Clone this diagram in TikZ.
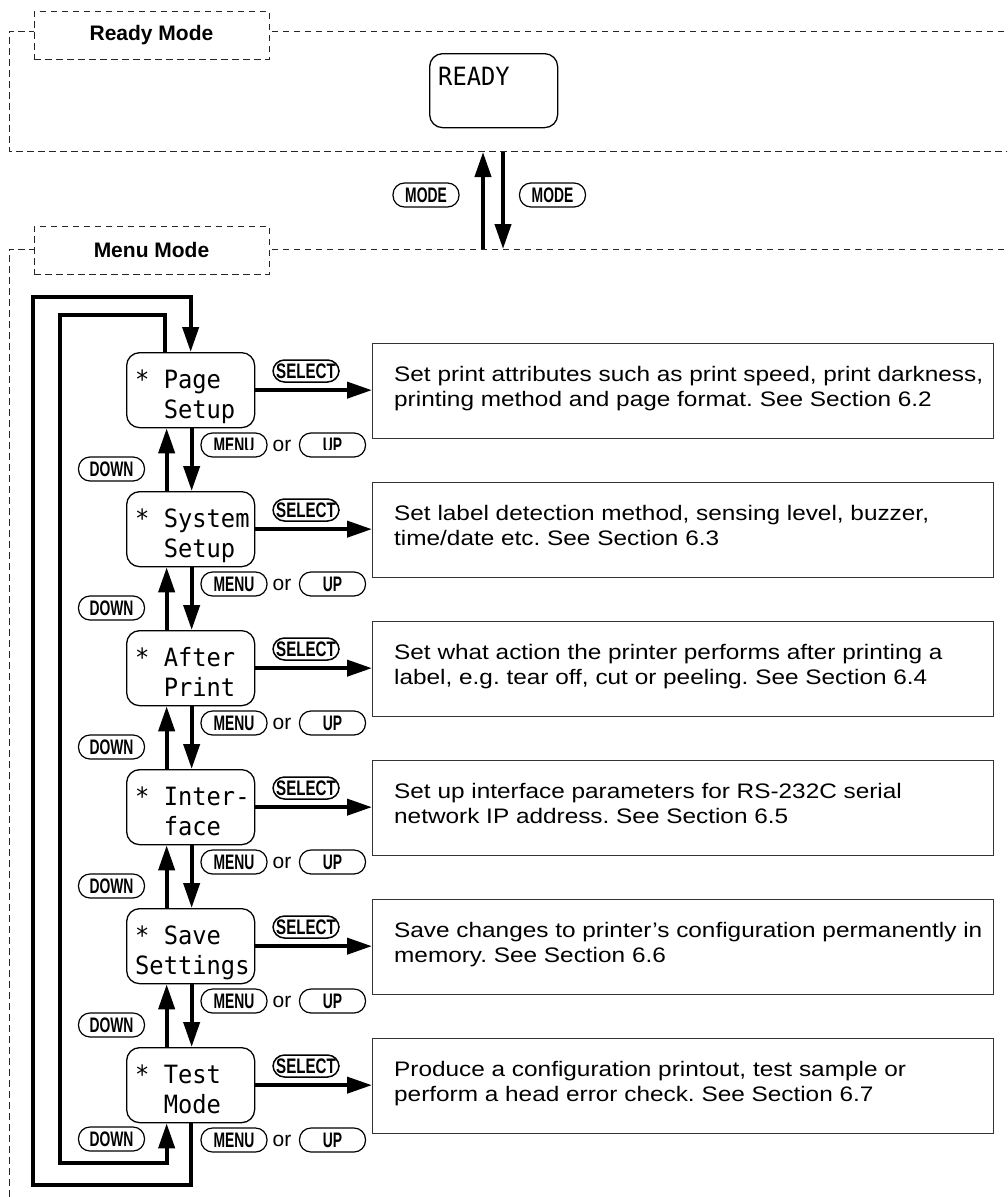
\documentclass[tikz,border=0pt]{standalone}
\usepackage{fontspec}
\setmainfont{Liberation Sans}
\newfontfamily\lcdfont{DejaVu Sans Mono}
\usepackage{graphicx}
\usetikzlibrary{arrows.meta}
\frenchspacing
\newcommand\keytext[2][0.66]{\scalebox{#1}[1]{\fontsize{21}{21}\selectfont\bfseries #2}}
\newcommand\desctxt[1]{\scalebox{1.16}[1]{#1}}
\newcommand\lcdtxt[1]{\scalebox{1}[1.06]{#1}}
\begin{document}
\begin{tikzpicture}[x=1pt,y=-1pt,
 frame/.style={draw=black!85, line width=1pt, dash pattern=on 6.5pt off 4.5pt},
 titlebox/.style={frame, fill=white, minimum width=235pt, minimum height=48pt, inner sep=0pt, font=\fontsize{21}{21}\selectfont\bfseries},
 lcd/.style={draw, line width=1.3pt, rounded corners=13pt, minimum width=128pt, minimum height=75pt, inner sep=0pt, anchor=north west},
 lcdtext/.style={anchor=base west, inner sep=0pt, font=\lcdfont\fontsize{23.75}{30}\selectfont},
 desc/.style={draw=black!80, line width=1.2pt, minimum width=621pt, minimum height=95pt, inner sep=0pt, anchor=north west},
 desctext/.style={anchor=base west, inner sep=0pt, font=\fontsize{21}{25}\selectfont},
 key/.style={draw, line width=1.2pt, rounded corners=11.5pt, minimum width=66pt, minimum height=24pt, inner sep=0pt},
 ortext/.style={inner sep=0pt, font=\fontsize{21}{21}\selectfont},
 arr/.style={line width=4pt, -{Triangle[length=25pt,width=16pt]}},
]
\useasboundingbox (0,0) rectangle (1007,1197);
\clip (0,0) rectangle (1007,1197);

% mode frames
\draw[frame] (1015,31) -- (9,31) -- (9,151) -- (1015,151);
\node[titlebox] (readytitle) at (151.5,35) {Ready Mode};
\draw[frame] (1015,249) -- (9,249) -- (9,1205);
\node[titlebox] (menutitle) at (151.5,250) {Menu Mode};

% ready display
\node[lcd, minimum height=74pt] (ready) at (429,53) {};
\node[lcdtext] (readytxt) at (438,85) {\lcdtxt{READY}};

% mode switching
\coordinate (mu0) at (483,249); \coordinate (mu1) at (483,152);
\coordinate (md0) at (503,152); \coordinate (md1) at (503,249);
\draw[arr] (mu0) -- (mu1);
\draw[arr] (md0) -- (md1);
\node[key] (modeL) at (426,195) {\keytext{MODE}};
\node[key] (modeR) at (552.5,195) {\keytext{MODE}};

% menu entries
\foreach \i/\la/\lb/\da/\db in {
 0/{* Page}/{\ \ Setup}/{Set print attributes such as print speed, print darkness,}/{printing method and page format. See Section 6.2},
 1/{* System}/{\ \ Setup}/{Set label detection method, sensing level, buzzer,}/{time/date etc. See Section 6.3},
 2/{* After}/{\ \ Print}/{Set what action the printer performs after printing a}/{label, e.g. tear off, cut or peeling. See Section 6.4},
 3/{* Inter-}/{\ \ face}/{Set up interface parameters for RS-232C serial}/{network IP address. See Section 6.5},
 4/{* Save}/{Settings}/{Save changes to printer’s configuration permanently in}/{memory. See Section 6.6},
 5/{* Test}/{\ \ Mode}/{Produce a configuration printout, test sample or}/{perform a head error check. See Section 6.7}}{
 \pgfmathsetmacro\t{352+139*\i}
 \node[lcd] (box\i) at (126,\t) {};
 \node[lcdtext] (la\i) at (135,{\t+36}) {\lcdtxt{\la}};
 \node[lcdtext] (lb\i) at (135,{\t+66}) {\lcdtxt{\lb}};
 \node[desc] (desc\i) at (372,{\t-9}) {};
 \node[desctext] (da\i) at (394,{\t+29}) {\desctxt{\da}};
 \node[desctext] (db\i) at (394,{\t+54}) {\desctxt{\db}};
 \node[key, minimum height=22pt, line width=1.5pt] (sel\i) at (306,{\t+19}) {\keytext[0.72]{SELECT}};
 \draw[arr] (box\i.east) -- (box\i.east -| desc\i.west);
 \node[key] (menu\i) at (234,{\t+93}) {\keytext{MENU}};
 \node[ortext] (or\i) at (282,{\t+94}) {or};
 \node[key] (up\i) at (332.5,{\t+93}) {\keytext{UP}};
}

% first MENU / UP labels are cut at the bottom in the original
\fill[white] (207,449.6) rectangle (261,453.2);
\fill[white] (305,449.6) rectangle (360,453.2);

% vertical navigation between entries
\foreach \i in {0,...,4}{
 \pgfmathtruncatemacro\j{\i+1}
 \pgfmathsetmacro\t{352+139*\i}
 \draw[arr] ([xshift=1pt]box\i.south) -- ([xshift=1pt]box\j.north);
 \draw[arr] ([xshift=-24pt]box\j.north) -- ([xshift=-24pt]box\i.south);
 \node[key] (down\i) at (111.5,{\t+117}) {\keytext{DOWN}};
}
\node[key] (down5) at (111.5,1139) {\keytext{DOWN}};

% wrap-around loops
\coordinate (ob) at (33,1185); \coordinate (ot) at (33,297);
\coordinate (it) at (60,315); \coordinate (ib) at (60,1163);
\draw[arr] (box5.south) |- (ob) -- (ot) -| (box0.north);
\draw[arr] ([xshift=-26pt]box0.north) |- (it) -- (ib) -| ([xshift=-24pt]box5.south);
\end{tikzpicture}
\end{document}
